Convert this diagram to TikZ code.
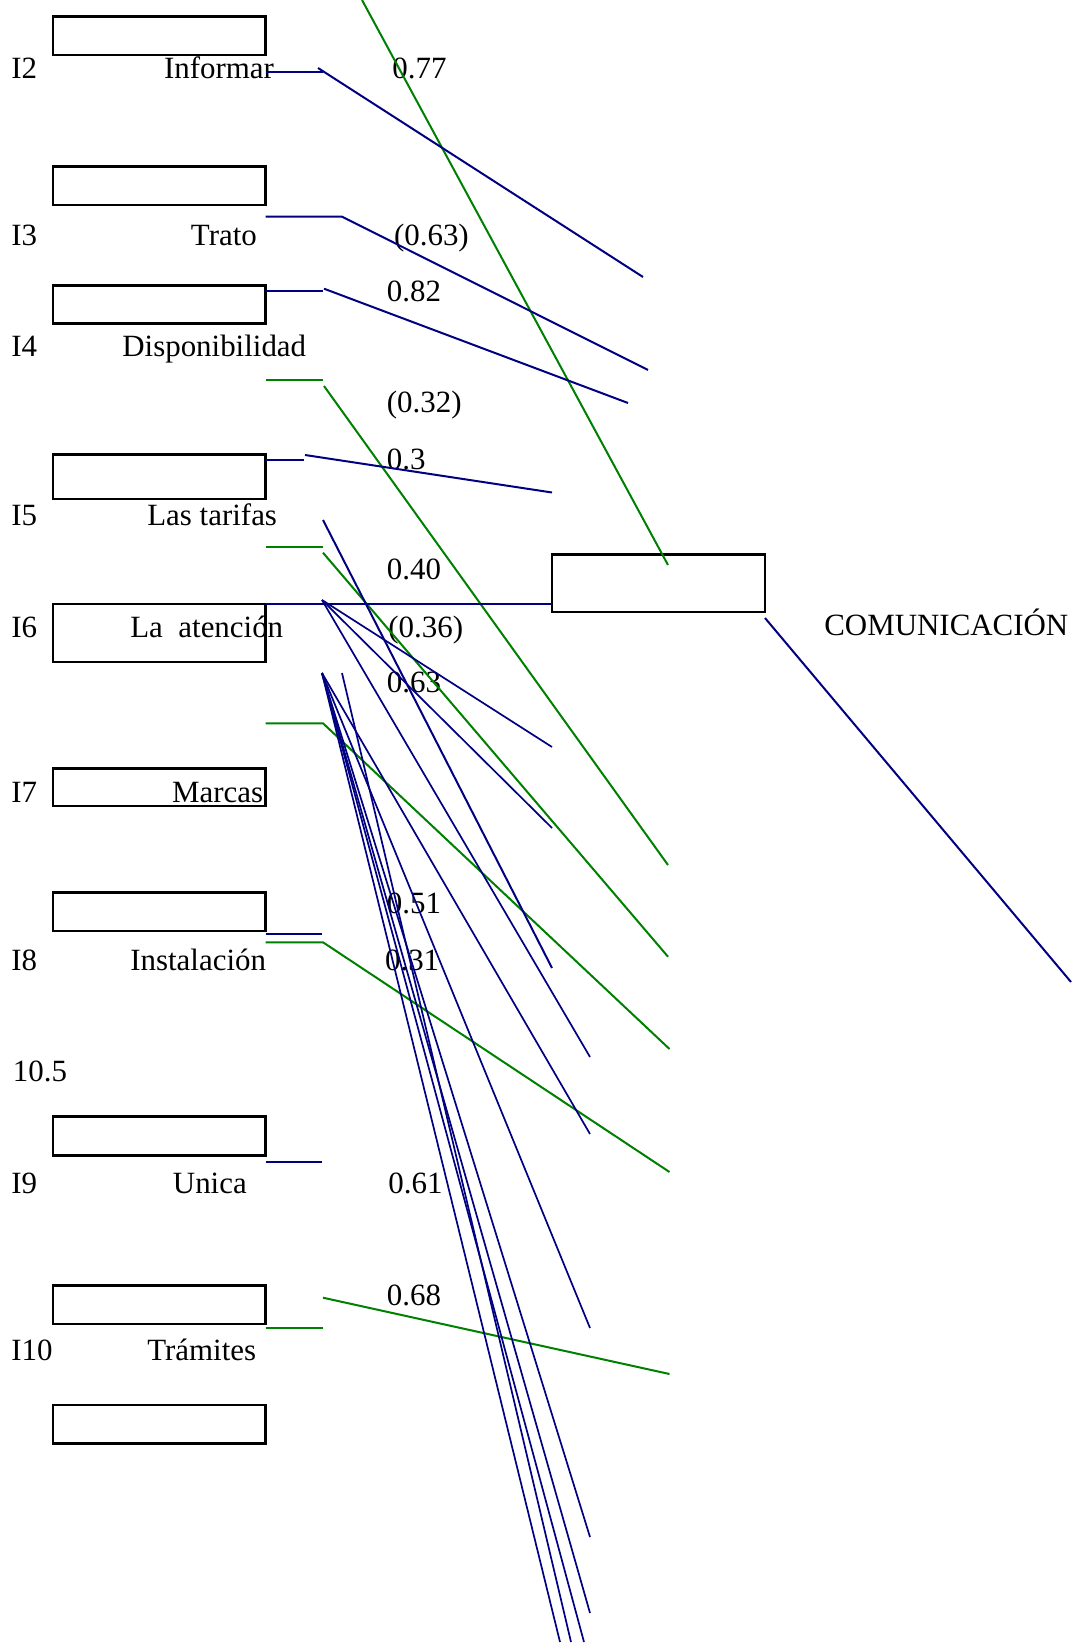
\documentclass[tikz,border=0pt]{standalone}
\usepackage{fontspec}
\setmainfont{Liberation Serif}
\definecolor{nv}{RGB}{0,0,128}
\definecolor{gr}{RGB}{0,128,0}
\begin{document}
\begin{tikzpicture}[x=0.02cm,y=-0.02cm,
  box/.style={draw=black, line width=0.05cm, minimum width=4.25cm, anchor=north west, inner sep=0pt, outer sep=0pt},
  lbl/.style={anchor=base west, inner sep=0pt, font=\fontsize{17.6}{20}\selectfont},
  bl/.style={draw=nv, line width=0.04cm},
  blt/.style={draw=nv, line width=0.034cm},
  gl/.style={draw=gr, line width=0.04cm}]
\useasboundingbox (0,0) rectangle (1079,1648);
% boxes
\node[box, minimum height=0.766cm] (b1) at (53,16.7) {};
\node[box, minimum height=0.766cm] (b2) at (53,166.7) {};
\node[box, minimum height=0.752cm] (b3) at (53,285.7) {};
\node[box, minimum height=0.894cm] (b4) at (53,454.3) {};
\node[box, minimum height=1.16cm] (b5) at (53,604) {};
\node[box, minimum height=0.754cm] (b6) at (53,768.3) {};
\node[box, minimum height=0.774cm] (b7) at (53,892.3) {};
\node[box, minimum height=0.78cm] (b8) at (53,1116.7) {};
\node[box, minimum height=0.766cm] (b9) at (53,1285.7) {};
\node[box, minimum height=0.766cm] (b10) at (53,1405) {};
\node[box, minimum width=4.26cm, minimum height=1.154cm] (r) at (552,554.3) {};
% labels
\node[lbl] (t2) at (11,79) {I2};
\node[lbl] (n2) at (163.7,79) {Informar};
\node[lbl] (v1) at (392,79) {0.77};
\node[lbl] (t3) at (11,246) {I3};
\node[lbl] (n3) at (190.6,246) {Trato};
\node[lbl] (v2) at (393.7,246) {(0.63)};
\node[lbl] (v3) at (386.5,302) {0.82};
\node[lbl] (t4) at (11,357) {I4};
\node[lbl] (n4) at (122,357) {Disponibilidad};
\node[lbl] (v4) at (386.5,413) {(0.32)};
\node[lbl] (v5) at (386.5,470) {0.3};
\node[lbl] (t5) at (11,525) {I5};
\node[lbl] (n5) at (147,525) {Las tarifas};
\node[lbl] (v6) at (386.5,579) {0.40};
\node[lbl] (t6) at (11,637) {I6};
\node[lbl] (n6) at (130,637) {La\ \ atención};
\node[lbl] (v7) at (388,637) {(0.36)};
\node[lbl] (v8) at (386.5,692) {0.63};
\node[lbl] (com) at (824,635) {COMUNICACIÓN};
\node[lbl] (t7) at (11,802) {I7};
\node[lbl] (n7) at (171.7,802) {Marcas};
\node[lbl] (v9) at (386.5,913) {0.51};
\node[lbl] (t8) at (11,970) {I8};
\node[lbl] (n8) at (130,970) {Instalación};
\node[lbl] (v10) at (384.7,970) {0.31};
\node[lbl] (x105) at (12.5,1081) {10.5};
\node[lbl] (t9) at (11,1193) {I9};
\node[lbl] (n9) at (172.6,1193) {Unica};
\node[lbl] (v11) at (388,1193) {0.61};
\node[lbl] (v12) at (386.5,1305) {0.68};
\node[lbl] (t10) at (11,1360) {I10};
\node[lbl] (n10) at (147,1360) {Trámites};
% coordinates
\coordinate (s1) at (265.5,71.7); \coordinate (k1) at (323,71.7);
\coordinate (d1) at (318,68); \coordinate (e1) at (643,277);
\coordinate (s2) at (265.5,216.7); \coordinate (k2) at (342,216.7); \coordinate (e2) at (648,370);
\coordinate (s3) at (265.5,291); \coordinate (k3) at (323,291);
\coordinate (d3) at (324,288.7); \coordinate (e3) at (628,403);
\coordinate (s4) at (265.5,460.3); \coordinate (k4) at (303.6,460.3);
\coordinate (d4) at (305,455); \coordinate (e4) at (552,492.5);
\coordinate (s5) at (265.5,604);
\coordinate (ro) at (765,618); \coordinate (re) at (1071,982);
\coordinate (L6a) at (323,520); \coordinate (L6b) at (552,968);
\coordinate (A) at (322,600); \coordinate (B) at (322,673); \coordinate (C) at (342,673);
\coordinate (s8) at (265.5,934); \coordinate (k8) at (322,934);
\coordinate (s9) at (265.5,1161.7); \coordinate (k9) at (322,1161.7);
\coordinate (a1) at (552,747); \coordinate (a2) at (552,828); \coordinate (a3) at (590,1057);
\coordinate (f1) at (590,1134); \coordinate (f2) at (590,1328); \coordinate (f3) at (590,1537);
\coordinate (f4) at (590,1613); \coordinate (f5) at (584,1642); \coordinate (f6) at (560,1642);
\coordinate (c1) at (571,1642);
% green coordinates
\coordinate (g1a) at (362,0); \coordinate (g1b) at (668,565);
\coordinate (g2s) at (265.5,380); \coordinate (g2k) at (323,380); \coordinate (g2d) at (324,386); \coordinate (g2e) at (668,865);
\coordinate (g3s) at (265.5,546.7); \coordinate (g3k) at (323,546.7); \coordinate (g3d) at (323,552.7); \coordinate (g3e) at (668,956.7);
\coordinate (g4s) at (265.5,723.3); \coordinate (g4k) at (323,723.3); \coordinate (g4e) at (669.5,1049);
\coordinate (g5s) at (265.5,942.3); \coordinate (g5k) at (323,942.3); \coordinate (g5e) at (669.5,1172);
\coordinate (g6s) at (265.5,1328.3); \coordinate (g6k) at (323,1328.3); \coordinate (g6d) at (323,1297.7); \coordinate (g6e) at (669.5,1374);
% green lines
\draw[gl] (g1a) -- (g1b);
\draw[gl] (g2s) -- (g2k); \draw[gl] (g2d) -- (g2e);
\draw[gl] (g3s) -- (g3k); \draw[gl] (g3d) -- (g3e);
\draw[gl] (g4s) -- (g4k) -- (g4e);
\draw[gl] (g5s) -- (g5k) -- (g5e);
\draw[gl] (g6s) -- (g6k); \draw[gl] (g6d) -- (g6e);
% blue lines
\draw[bl] (s1) -- (k1); \draw[bl] (d1) -- (e1);
\draw[bl] (s2) -- (k2) -- (e2);
\draw[bl] (s3) -- (k3); \draw[bl] (d3) -- (e3);
\draw[bl] (s4) -- (k4); \draw[bl] (d4) -- (e4);
\draw[bl] (s5) -- (r.west |- s5);
\draw[bl] (ro) -- (re);
\draw[bl] (L6a) -- (L6b);
\draw[bl] (s8) -- (k8);
\draw[bl] (s9) -- (k9);
\draw[blt] (A) -- (a1);
\draw[blt] (A) -- (a2);
\draw[blt] (A) -- (a3);
\draw[blt] (B) -- (f1);
\draw[blt] (B) -- (f2);
\draw[blt] (B) -- (f3);
\draw[blt] (B) -- (f4);
\draw[blt] (B) -- (f5);
\draw[blt] (B) -- (f6);
\draw[blt] (C) -- (c1);
\end{tikzpicture}
\end{document}
